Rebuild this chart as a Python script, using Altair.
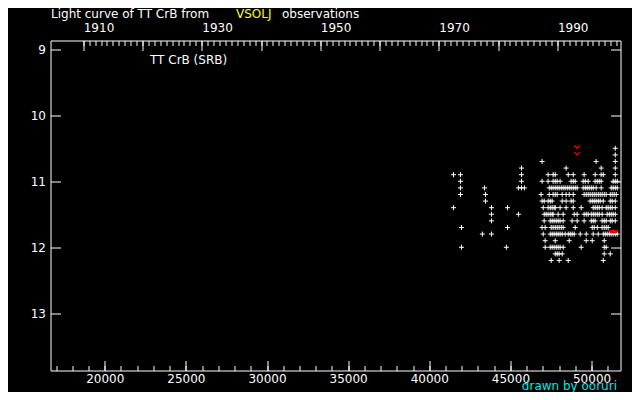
import altair as alt
import pandas as pd

# ---- axis extents (JD - 2400000, magnitude) ----
X_DOMAIN = [16656, 51782]
Y_DOMAIN = [8.867, 13.867]

major_jd_ticks = [20000, 25000, 30000, 35000, 40000, 45000, 50000]
minor_jd_ticks = list(range(17000, 52000, 1000))
mag_ticks = [9, 10, 11, 12, 13]
decade_years = [1910, 1920, 1930, 1940, 1950, 1960, 1970, 1980, 1990]
minor_years = list(range(1910, 2001))

# ---- observations: magnitude row -> JD list ----
obs = {
    10.5: [51460],
    10.6: [51460],
    10.7: [46950, 50280, 51460],
    10.8: [45680, 48430, 50590, 51460],
    10.9: [41490, 41920, 45680, 47320, 47630, 47760, 48560, 48870, 49540,
           50220, 50590, 50720, 51460],
    11.0: [41920, 45680, 46950, 47320, 47630, 47760, 47880, 48060, 48740,
           48870, 48990, 49480, 49610, 49790, 50220, 50350, 50470, 50590,
           51330, 51460, 51580],
    11.1: [41920, 43400, 45490, 45680, 45860, 47390, 47510, 47630, 47760,
           47880, 48000, 48130, 48250, 48370, 48500, 48620, 48740, 48870,
           48990, 49110, 49480, 49610, 49730, 49850, 49980, 50100, 50280,
           50590, 51210, 51330, 51460, 51580],
    11.2: [41920, 43460, 46890, 47390, 47630, 47760, 47880, 48190, 48430,
           48620, 48870, 49540, 49670, 49790, 49910, 50040, 50160, 50280,
           50410, 50530, 50650, 50780, 50900, 51150, 51270, 51390, 51520],
    11.3: [43460, 46950, 47080, 47320, 47450, 47570, 48190, 48430, 48740,
           48870, 49910, 50040, 50160, 50280, 50410, 50530, 50720, 51150,
           51270, 51460],
    11.4: [41490, 43830, 44820, 47020, 47320, 47450, 47570, 47690, 47760,
           48060, 48430, 48870, 49360, 50100, 50220, 50350, 50470, 50650,
           50900, 51020, 51150, 51270, 51460],
    11.5: [43830, 45490, 47080, 47200, 47320, 47450, 47570, 47630, 47940,
           48250, 48930, 49110, 49540, 49670, 49790, 49980, 50100, 50220,
           50350, 50470, 50650, 50960, 51090, 51210, 51330, 51460],
    11.6: [43830, 47080, 47450, 47570, 47690, 47820, 47940, 48060, 48250,
           48800, 49110, 49540, 49980, 50100, 50220, 50650, 50780, 50900,
           51150, 51270, 51460],
    11.7: [41980, 44820, 46950, 47140, 47510, 47630, 47760, 47880, 48000,
           48130, 48250, 48990, 50040, 50160, 50350, 50650, 50780, 50900,
           51020],
    11.8: [43270, 43830, 47020, 47450, 47570, 47690, 47820, 47940, 48060,
           48190, 48370, 48560, 48680, 48800, 48930, 49300, 49670, 50100,
           50410, 50720, 50840, 50960, 51090, 51210, 51330, 51460, 51580],
    11.9: [47140, 47760, 48620, 49670, 50040, 50780],
    12.0: [41980, 44750, 47140, 47450, 47570, 47690, 47820, 47940, 48060,
           48250, 49360, 50780, 50900],
    12.1: [47760, 47880, 48000, 48190, 50780, 51150],
    12.2: [47510, 48000, 48560, 50720],
}

# fainter-than (red "v") marks
red_jd = [49110, 49110, 51210, 51330, 51460]
red_mag = [10.5, 10.6, 11.78, 11.78, 11.78]

recs = [(jd, m) for m, jds in obs.items() for jd in jds]
pts = pd.DataFrame(recs, columns=["jd", "mag"])
red = pd.DataFrame({"jd": red_jd, "mag": red_mag})

FONT = "DejaVu Sans"
common = dict(domain=False, grid=False, tickColor="white", labelColor="white",
              labelFont=FONT, labelFontSize=12, tickWidth=1,
              labelOverlap=False, title=None)

xs = alt.Scale(domain=X_DOMAIN, nice=False, zero=False)
ys = alt.Scale(domain=Y_DOMAIN, nice=False, zero=False, reverse=True)

ax_bottom = alt.Axis(orient="bottom", values=major_jd_ticks, offset=-10,
                     tickSize=10, labelPadding=3, format="d", **common)
ax_bottom_minor = alt.Axis(orient="bottom", values=minor_jd_ticks, offset=-5,
                           tickSize=5, labels=False, **common)
ax_left = alt.Axis(orient="left", values=mag_ticks, offset=-10, tickSize=10,
                   labelPadding=5, format="d", **common)
ax_right = alt.Axis(orient="right", values=mag_ticks, offset=-10, tickSize=10,
                    labels=False, **common)

year_expr = "(round((datum.value - 15020.5) / 365.25) + 1900)"
ax_top = alt.Axis(orient="top",
                  values=[15020.5 + (y - 1900) * 365.25 for y in decade_years],
                  offset=-10, tickSize=10, labelPadding=6, labelAlign="left",
                  labelExpr=f"{year_expr} % 20 == 10 ? format({year_expr}, 'd') : ''",
                  **common)
ax_top_minor = alt.Axis(orient="top",
                        values=[15020.5 + (y - 1900) * 365.25 for y in minor_years],
                        offset=-5, tickSize=5, labels=False, **common)

PLUS = "M-1,0L1,0M0,-1L0,1"
VEE = "M-1,-1L0,0L1,-1"

points = alt.Chart(pts).mark_point(shape=PLUS, size=25, filled=False,
                                   color="white", strokeWidth=1, opacity=1).encode(
    x=alt.X("jd:Q", scale=xs, axis=ax_bottom),
    y=alt.Y("mag:Q", scale=ys, axis=ax_left),
)

reds = alt.Chart(red).mark_point(shape=VEE, size=30, filled=False,
                                 color="#ff0000", strokeWidth=1.3, opacity=1).encode(
    x=alt.X("jd:Q", scale=xs, axis=ax_bottom_minor),
    y=alt.Y("mag:Q", scale=ys, axis=ax_right),
)

top_major = alt.Chart(red).mark_point(opacity=0).encode(
    x=alt.X("jd:Q", scale=xs, axis=ax_top),
)
top_minor = alt.Chart(red).mark_point(opacity=0).encode(
    x=alt.X("jd:Q", scale=xs, axis=ax_top_minor),
)

ann = pd.DataFrame({"k": [0]})


def label(text, x, y, color="white", align="left"):
    return alt.Chart(ann).mark_text(
        text=text, font=FONT, fontSize=12, color=color, align=align,
        baseline="alphabetic",
    ).encode(x=alt.value(x), y=alt.value(y))


t1 = label("Light curve of TT CrB from", 0.5, -22.8)
t2 = label("VSOLJ", 185.5, -22.8, color="#ffff00")
t3 = label("observations", 231.5, -22.8)
t4 = label("TT CrB (SRB)", 99.5, 23.5)
t5 = label("drawn by ooruri", 566.5, 349.5, color="#00e8e8", align="right")

chart = alt.layer(points, reds, top_major, top_minor, t1, t2, t3, t4, t5).resolve_scale(
    x="shared", y="shared"
).resolve_axis(
    x="independent", y="independent"
).properties(
    width=570, height=330, background="black",
    padding={"left": 42.5, "top": 32.5, "right": 11.5, "bottom": 21.5},
    autosize=alt.AutoSizeParams(type="none"),
).configure_view(stroke="white", strokeWidth=1)

chart.save("out.html", embed_options={"renderer": "svg", "actions": False})
